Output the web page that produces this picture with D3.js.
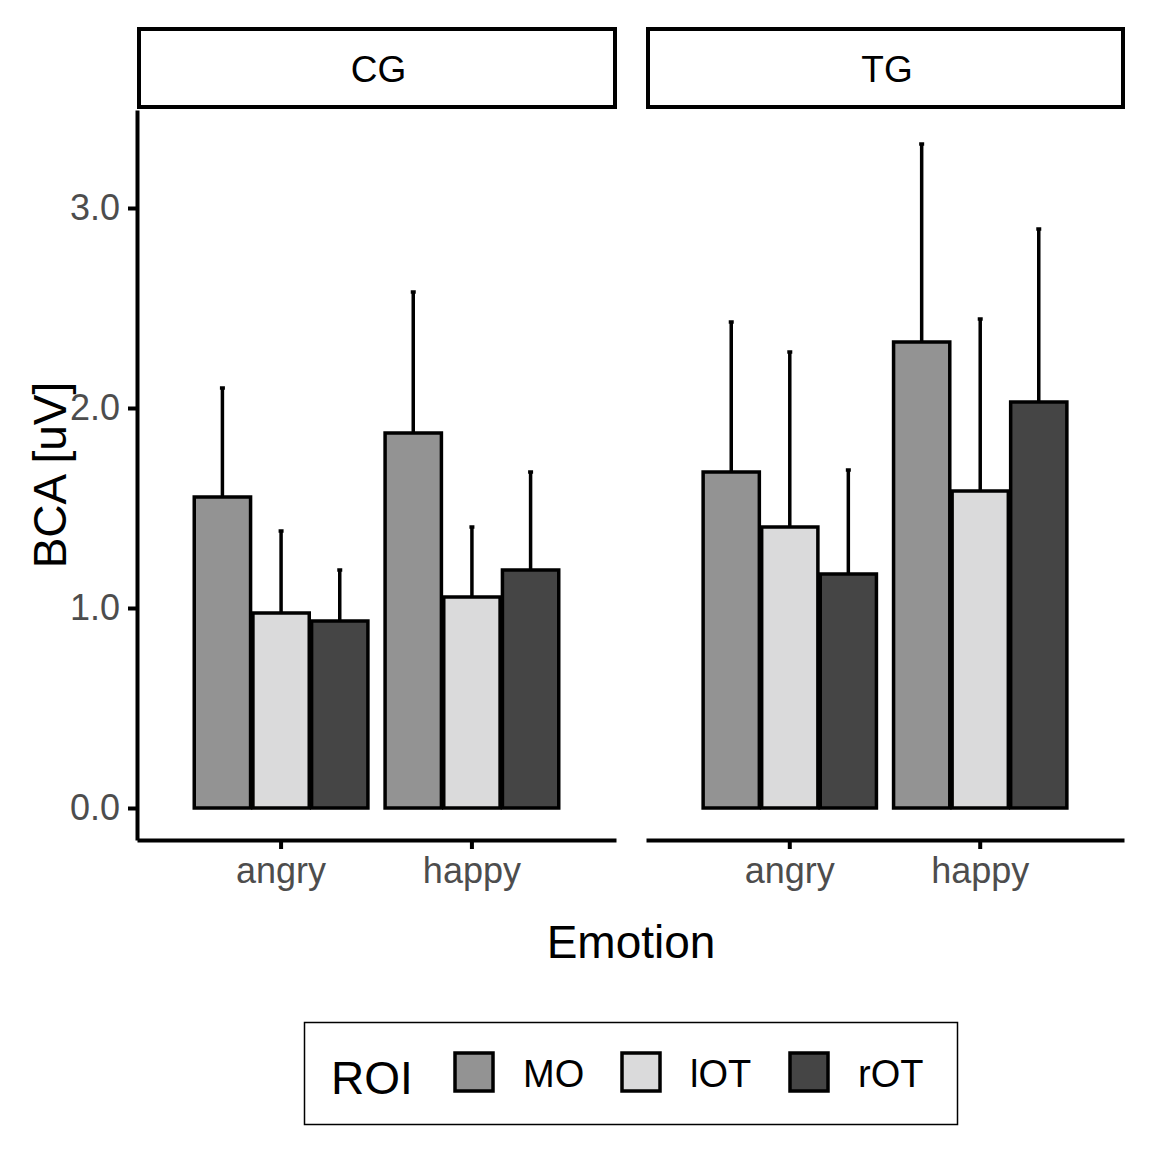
<!DOCTYPE html>
<html><head><meta charset="utf-8">
<script src="https://cdn.jsdelivr.net/npm/d3@7"></script>
<style>body{margin:0;background:#fff}</style></head>
<body><svg id="c" width="1152" height="1152"></svg>
<script>
const groups=["CG","TG"];
const emotions=["angry","happy"];
const rois=["MO","lOT","rOT"];
const colors=["#939393","#dadadb","#454545"];
// means [group][emotion][roi]
const means=[[[1.555,0.975,0.935],[1.875,1.055,1.19]],[[1.68,1.405,1.17],[2.33,1.585,2.03]]];
const uppers=[[[2.10,1.385,1.19],[2.58,1.405,1.68]],[[2.43,2.28,1.69],[3.32,2.445,2.895]]];
const yTicks=[0,1,2,3];

const svg=d3.select("#c");
const font="Arial, 'Liberation Sans', sans-serif";
const y=d3.scaleLinear().domain([-0.16,3.49]).range([840,110]);
const panels=[[137,616],[646,1124]];
panels.forEach((p,gi)=>{
  const x=d3.scaleBand().domain(emotions).range(p).paddingInner(0.09).paddingOuter(0.3);
  const xs=d3.scaleBand().domain(rois).range([0,x.bandwidth()]).paddingInner(0.04);
  svg.append("rect").attr("x",p[0]+2).attr("y",29).attr("width",p[1]-p[0]-3).attr("height",78)
    .attr("fill","#fff").attr("stroke","#000").attr("stroke-width",4);
  svg.append("text").attr("x",(p[0]+p[1])/2+2).attr("y",82).attr("text-anchor","middle")
    .attr("font-family",font).attr("font-size",37).text(groups[gi]);
  emotions.forEach((e,ei)=>{
    rois.forEach((r,ri)=>{
      const bx=x(e)+xs(r), bw=xs.bandwidth(), cx=bx+bw/2;
      svg.append("line").attr("x1",cx).attr("x2",cx).attr("y1",y(means[gi][ei][ri])).attr("y2",y(uppers[gi][ei][ri]))
        .attr("stroke","#000").attr("stroke-width",3.5);
      svg.append("line").attr("x1",cx-2.5).attr("x2",cx+2.5).attr("y1",y(uppers[gi][ei][ri])).attr("y2",y(uppers[gi][ei][ri]))
        .attr("stroke","#000").attr("stroke-width",3.5);
      svg.append("rect").attr("x",bx).attr("y",y(means[gi][ei][ri])).attr("width",bw)
        .attr("height",y(0)-y(means[gi][ei][ri])).attr("fill",colors[ri]).attr("stroke","#000").attr("stroke-width",3.5);
    });
  });
  const ax=svg.append("g").attr("transform","translate(0,840)")
    .call(d3.axisBottom(x).tickSize(9).tickSizeOuter(0).tickPadding(8));
  ax.select(".domain").attr("stroke-width",4);
  ax.selectAll(".tick line").attr("stroke-width",4);
  ax.selectAll("text").attr("font-family",font).attr("font-size",36).attr("fill","#4d4d4d");
});
const ay=svg.append("g").attr("transform","translate(137,0)")
  .call(d3.axisLeft(y).tickValues(yTicks).tickSize(9).tickSizeOuter(0).tickPadding(8));
ay.select(".domain").attr("stroke-width",4);
ay.selectAll(".tick line").attr("stroke-width",4);
ay.selectAll("text").attr("font-family",font).attr("font-size",36).attr("fill","#4d4d4d");
svg.append("text").attr("x",631).attr("y",958).attr("text-anchor","middle").attr("font-family",font).attr("font-size",46).text("Emotion");
svg.append("text").attr("transform","translate(66,475) rotate(-90)").attr("text-anchor","middle").attr("font-family",font).attr("font-size",46).text("BCA [uV]");
// legend
svg.append("rect").attr("x",304.5).attr("y",1022.5).attr("width",653).attr("height",102).attr("fill","#fff").attr("stroke","#000").attr("stroke-width",1.5);
svg.append("text").attr("x",331).attr("y",1094).attr("font-family",font).attr("font-size",46).text("ROI");
const lx=[455,622,790];
rois.forEach((r,i)=>{
  svg.append("rect").attr("x",lx[i]).attr("y",1053).attr("width",38).attr("height",38).attr("fill",colors[i]).attr("stroke","#000").attr("stroke-width",3.5);
  svg.append("text").attr("x",lx[i]+68).attr("y",1087).attr("font-family",font).attr("font-size",38).text(r);
});
</script></body></html>
